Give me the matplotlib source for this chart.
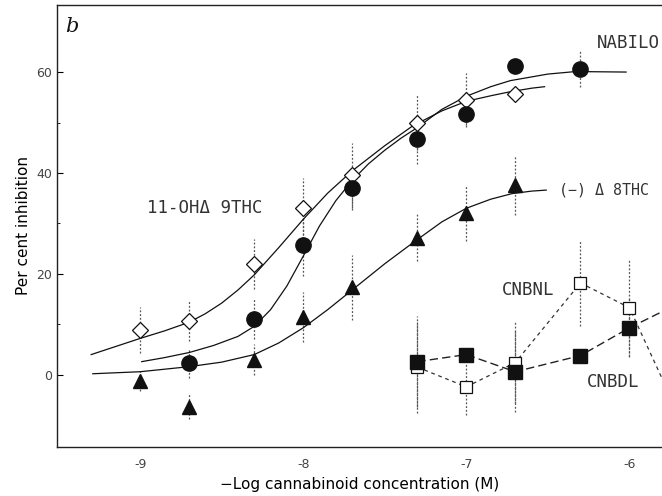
import numpy as np
import matplotlib.pyplot as plt

# measured points, x = log10 molar concentration
oh_x = [-9.0, -8.7, -8.3, -8.0, -7.7, -7.3, -7.0, -6.7]
oh_y = [8.9, 10.7, 22.0, 33.0, 39.5, 50.0, 54.5, 55.6]
oh_err = [4.5, 4.0, 5.0, 6.0, 6.5, 5.4, 5.3, 0.0]

nab_x = [-8.7, -8.3, -8.0, -7.7, -7.3, -7.0, -6.7, -6.3]
nab_y = [2.4, 11.1, 25.8, 37.1, 46.7, 51.7, 61.2, 60.6]
nab_err = [3.0, 4.0, 6.3, 4.5, 5.0, 2.2, 0.0, 3.5]

d8_x = [-9.0, -8.7, -8.3, -8.0, -7.7, -7.3, -7.0, -6.7]
d8_y = [-1.2, -6.3, 3.0, 11.4, 17.3, 27.2, 32.1, 37.6]
d8_err = [2.0, 2.5, 3.0, 5.0, 6.5, 4.7, 5.5, 6.0]

cnbdl_x = [-7.3, -7.0, -6.7, -6.3, -6.0, -5.7]
cnbdl_y = [2.6, 4.0, 0.6, 3.8, 9.3, 14.1]
cnbdl_err = [9.0, 0.0, 8.0, 1.5, 5.7, 0.0]

cnbnl_x = [-7.3, -7.0, -6.7, -6.3, -6.0, -5.7]
cnbnl_y = [1.5, -2.4, 2.4, 18.2, 13.3, -7.7]
cnbnl_err = [9.0, 5.5, 8.0, 8.6, 9.5, 0.0]

# fitted curves
oh_fit_x = [-9.3, -9.15, -9.0, -8.85, -8.7, -8.6, -8.5, -8.4, -8.3, -8.15, -8.0, -7.85, -7.7,
            -7.5, -7.33, -7.15, -7.0, -6.85, -6.73, -6.6, -6.52]
oh_fit_y = [4.0, 5.6, 7.2, 8.7, 10.4, 12.1, 14.2, 16.8, 19.8, 25.2, 30.8, 36.0, 40.4,
            45.4, 49.3, 52.3, 54.2, 55.3, 56.1, 56.8, 57.1]

nab_fit_x = [-8.99, -8.85, -8.7, -8.55, -8.4, -8.3, -8.2, -8.1, -8.0, -7.9, -7.8, -7.7, -7.6,
             -7.5, -7.4, -7.3, -7.15, -7.0, -6.85, -6.73, -6.5, -6.33, -6.02]
nab_fit_y = [2.6, 3.4, 4.4, 5.8, 7.6, 9.6, 12.9, 17.6, 23.5, 29.5, 34.5, 38.5, 41.8,
             44.5, 46.9, 49.0, 52.6, 55.2, 57.1, 58.3, 59.6, 60.1, 60.0]

d8_fit_x = [-9.29, -9.0, -8.7, -8.5, -8.3, -8.15, -8.0, -7.85, -7.7, -7.5, -7.33, -7.15,
            -7.0, -6.85, -6.72, -6.6, -6.51]
d8_fit_y = [0.2, 0.6, 1.6, 2.5, 4.0, 6.3, 9.3, 12.9, 16.8, 22.0, 26.1, 30.3,
            33.0, 34.8, 35.9, 36.4, 36.6]

fig = plt.figure(figsize=(6.62, 4.96), dpi=100)
ax = fig.add_axes([0.086, 0.099, 0.914, 0.891])
ax.set_xlim(-9.51, -5.80)
ax.set_ylim(-14.3, 73.3)

ink = '#111111'

def bars(x, y, e):
    ax.vlines(x, np.array(y) - np.array(e), np.array(y) + np.array(e),
              colors='#555555', linestyles=(0, (1.5, 1.5)), linewidth=0.9, zorder=1)

for x, y, e in [(oh_x, oh_y, oh_err), (nab_x, nab_y, nab_err), (d8_x, d8_y, d8_err),
                (cnbdl_x, cnbdl_y, cnbdl_err), (cnbnl_x, cnbnl_y, cnbnl_err)]:
    bars(x, y, e)

ax.plot(oh_fit_x, oh_fit_y, color=ink, lw=0.9, zorder=2)
ax.plot(nab_fit_x, nab_fit_y, color=ink, lw=0.9, zorder=2)
ax.plot(d8_fit_x, d8_fit_y, color=ink, lw=0.9, zorder=2)

ax.plot(cnbnl_x, cnbnl_y, color='#333333', lw=0.9, ls=(0, (3, 3)), zorder=2,
        marker='s', ms=9, mfc='white', mec=ink, mew=0.9)
ax.plot(cnbdl_x, cnbdl_y, color='#222222', lw=1.0, ls=(0, (6, 3)), zorder=3,
        marker='s', ms=10, mfc=ink, mec=ink)

ax.plot(oh_x, oh_y, ls='none', marker='D', ms=8, mfc='white', mec=ink, mew=0.9, zorder=4)
ax.plot(nab_x, nab_y, ls='none', marker='o', ms=11, mfc=ink, mec=ink, zorder=4)
ax.plot(d8_x, d8_y, ls='none', marker='^', ms=10.5, mfc=ink, mec=ink, zorder=4)

lab = dict(family='DejaVu Sans Mono', fontsize=12.5, color='#333333', va='center')
ax.text(-6.20, 65.7, 'NABILO', **lab)
ax.text(-8.96, 33.0, '11-OH\u0394 9THC', **lab)
ax.text(-6.43, 36.6, '(\u2212) \u0394 8THC', **dict(lab, fontsize=10.8))
ax.text(-6.78, 16.8, 'CNBNL', **lab)
ax.text(-6.26, -1.4, 'CNBDL', **lab)
ax.text(-9.46, 67.9, 'b', fontsize=15, style='italic', family='DejaVu Serif', color=ink)

ax.set_xticks([-9, -8, -7, -6])
ax.set_xticklabels(['-9', '-8', '-7', '-6'])
ax.set_yticks([0, 20, 40, 60])
ax.set_yticks([10, 30, 50], minor=True)
ax.tick_params(direction='in', length=4, width=0.8, labelsize=9, labelcolor='#444444')
ax.tick_params(axis='x', length=0, pad=8)
ax.tick_params(which='minor', direction='in', length=2)

ax.set_xlabel('\u2212Log cannabinoid concentration (M)', fontsize=11, labelpad=4)
ax.set_ylabel('Per cent inhibition', fontsize=11, labelpad=4)

for s in ['left', 'bottom', 'top']:
    ax.spines[s].set_linewidth(1.0)
    ax.spines[s].set_color('#222222')
ax.spines['right'].set_visible(False)

fig.savefig('out.png', dpi=100)
